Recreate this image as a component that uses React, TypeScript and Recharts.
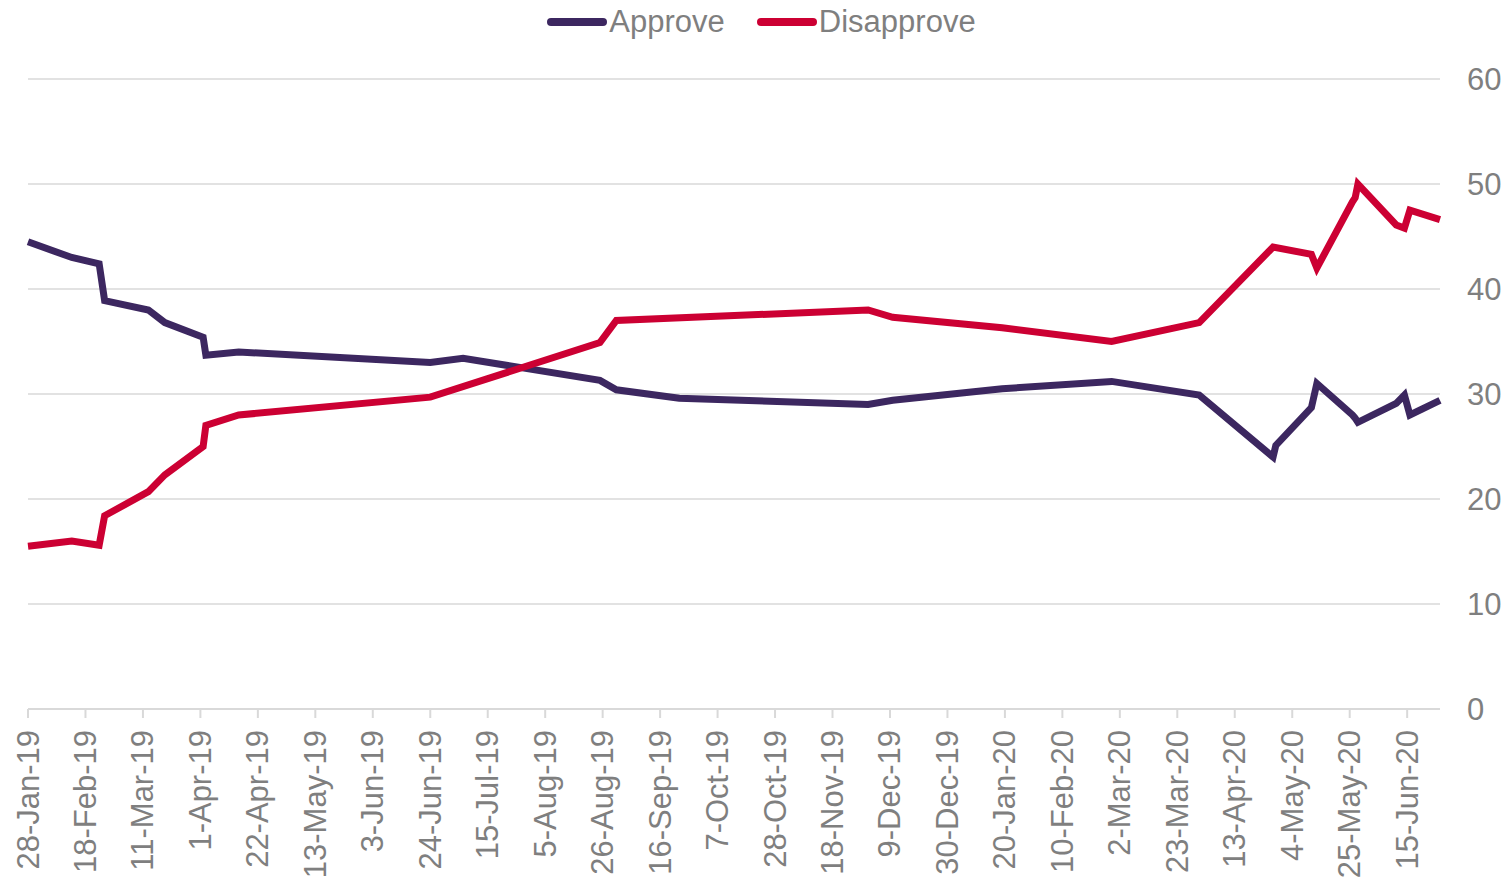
import {
  CartesianGrid,
  Legend,
  Line,
  LineChart,
  XAxis,
  YAxis,
} from "recharts"

// poll dates (vertices of the lines)
const pollDates = [
  "2019-01-28", "2019-02-13", "2019-02-23", "2019-02-25", "2019-03-13",
  "2019-03-19", "2019-04-02", "2019-04-03", "2019-04-15", "2019-06-24",
  "2019-07-06", "2019-08-25", "2019-08-31", "2019-09-23", "2019-12-01",
  "2019-12-10", "2020-01-19", "2020-02-28", "2020-03-31", "2020-04-27",
  "2020-04-28", "2020-05-11", "2020-05-13", "2020-05-26", "2020-05-27",
  "2020-05-28", "2020-06-11", "2020-06-14", "2020-06-16", "2020-06-27",
]

const approve = [
  44.5, 43.0, 42.4, 38.9, 38.0, 36.8, 35.4, 33.7, 34.0, 33.0,
  33.4, 31.3, 30.4, 29.6, 29.0, 29.4, 30.5, 31.2, 29.9, 24.0,
  25.1, 28.7, 31.0, 28.0, 27.7, 27.3, 29.1, 29.9, 28.0, 29.4,
]

const disapprove = [
  15.5, 16.0, 15.6, 18.4, 20.7, 22.3, 25.0, 27.0, 28.0, 29.7,
  null, 34.9, 37.0, null, 38.0, 37.3, 36.3, 35.0, 36.8, 44.0,
  null, 43.3, 42.0, 48.3, 48.7, 50.0, 46.1, 45.8, 47.5, 46.6,
]

const tickDates = [
  "2019-01-28", "2019-02-18", "2019-03-11", "2019-04-01", "2019-04-22",
  "2019-05-13", "2019-06-03", "2019-06-24", "2019-07-15", "2019-08-05",
  "2019-08-26", "2019-09-16", "2019-10-07", "2019-10-28", "2019-11-18",
  "2019-12-09", "2019-12-30", "2020-01-20", "2020-02-10", "2020-03-02",
  "2020-03-23", "2020-04-13", "2020-05-04", "2020-05-25", "2020-06-15",
]

const yTicks = [0, 10, 20, 30, 40, 50, 60]

const MONTHS = ["Jan", "Feb", "Mar", "Apr", "May", "Jun", "Jul", "Aug", "Sep", "Oct", "Nov", "Dec"]
const FONT = "'Liberation Sans', Arial, sans-serif"
const GREY = "#7f7f7f"
const PURPLE = "#3c2760"
const RED = "#cc0033"

const toTime = (s: string) => Date.parse(s + "T00:00:00Z")

const fmtDate = (t: number) => {
  const d = new Date(t)
  return `${d.getUTCDate()}-${MONTHS[d.getUTCMonth()]}-${String(d.getUTCFullYear()).slice(2)}`
}

const data = pollDates.map((d, i) => ({
  t: toTime(d),
  approve: approve[i],
  disapprove: disapprove[i],
}))

const DateTick = ({ x, y, payload }: any) => (
  <text
    x={x}
    y={y}
    transform={`rotate(-90, ${x}, ${y})`}
    textAnchor="end"
    dominantBaseline="central"
    fontSize={31}
    fontFamily={FONT}
    fill={GREY}
  >
    {fmtDate(payload.value)}
  </text>
)

const LegendBox = () => (
  <div
    style={{
      display: "flex",
      justifyContent: "center",
      alignItems: "center",
      height: 40,
      paddingRight: 14,
      fontFamily: FONT,
      fontSize: 31,
      color: GREY,
    }}
  >
    {[
      { name: "Approve", color: PURPLE },
      { name: "Disapprove", color: RED },
    ].map((s, i) => (
      <div key={s.name} style={{ display: "flex", alignItems: "center", marginLeft: i ? 32 : 0 }}>
        <svg width={60} height={10} style={{ marginRight: 2 }}>
          <line x1={4} y1={5} x2={56} y2={5} stroke={s.color} strokeWidth={8} strokeLinecap="round" />
        </svg>
        <span>{s.name}</span>
      </div>
    ))}
  </div>
)

export default function App() {
  return (
    <LineChart
      width={1501}
      height={873}
      data={data}
      margin={{ top: 31, right: 0, bottom: 0, left: 20 }}
    >
      <CartesianGrid vertical={false} stroke="#d9d9d9" strokeWidth={1.5} />
      <XAxis
        dataKey="t"
        type="number"
        scale="linear"
        domain={[toTime("2019-01-28"), toTime("2020-06-27")]}
        ticks={tickDates.map(toTime)}
        interval={0}
        height={172}
        stroke="#d9d9d9"
        strokeWidth={2}
        tickSize={9}
        tickMargin={12}
        tick={<DateTick />}
      />
      <YAxis
        orientation="right"
        domain={[0, 60]}
        ticks={yTicks}
        width={69}
        axisLine={false}
        tickLine={false}
        tickSize={6}
        tickMargin={21}
        tick={{ fontSize: 31, fontFamily: FONT, fill: GREY, textAnchor: "start" }}
      />
      <Legend verticalAlign="top" content={<LegendBox />} wrapperStyle={{ top: -6 }} />
      <Line
        dataKey="approve"
        name="Approve"
        stroke={PURPLE}
        strokeWidth={7}
        dot={false}
        connectNulls
        isAnimationActive={false}
      />
      <Line
        dataKey="disapprove"
        name="Disapprove"
        stroke={RED}
        strokeWidth={7}
        dot={false}
        connectNulls
        isAnimationActive={false}
      />
    </LineChart>
  )
}
